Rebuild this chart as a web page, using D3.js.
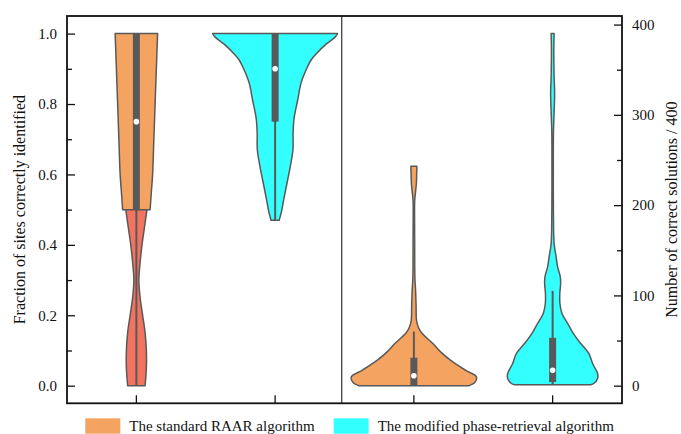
<!DOCTYPE html>
<html><head><meta charset="utf-8">
<script src="https://cdn.jsdelivr.net/npm/d3@7"></script>
<style>body{margin:0;background:#fff}svg{display:block}text{font-family:"Liberation Serif","Times New Roman",serif;fill:#111}</style>
</head><body><svg id="c" width="681" height="434"></svg>
<script>
// ---------- data ----------
const groups = ["fracRAAR", "fracMod", "cntRAAR", "cntMod"];
const legendLabels = ["The standard RAAR algorithm", "The modified phase-retrieval algorithm"];
const leftTicks = [0, 0.2, 0.4, 0.6, 0.8, 1.0];
const leftMinor = [0.1, 0.3, 0.5, 0.7, 0.9];
const rightTicks = [0, 100, 200, 300, 400];
const rightMinor = [50, 150, 250, 350];

// violin density profiles (value, relative density)
const raarFracUpperV = [0.5, 0.55, 0.6, 0.7, 0.8, 0.9, 0.95, 1.0];
const raarFracUpperD = [0.22, 0.24, 0.26, 0.28, 0.30, 0.32, 0.33, 0.34];
const raarFracLowerV = [0, 0.05, 0.1, 0.15, 0.2, 0.25, 0.3, 0.35, 0.4, 0.45, 0.5];
const raarFracLowerD = [0.14, 0.16, 0.16, 0.14, 0.10, 0.06, 0.04, 0.06, 0.09, 0.13, 0.17];
const modFracV = [0.47, 0.49, 0.53, 0.57, 0.62, 0.67, 0.72, 0.76, 0.81, 0.86, 0.9, 0.925, 0.945, 0.97, 0.99, 1.0];
const modFracD = [0.064, 0.096, 0.139, 0.184, 0.24, 0.285, 0.288, 0.304, 0.36, 0.416, 0.504, 0.576, 0.672, 0.816, 0.96, 1.0];
const raarCntV = [0, 4, 10, 17, 28, 38, 47, 58, 65, 72, 90, 106, 120, 158, 191, 205, 213, 224, 235, 243];
const raarCntD = [0.88, 0.98, 1.0, 0.83, 0.59, 0.42, 0.30, 0.13, 0.07, 0.043, 0.035, 0.027, 0.016, 0.013, 0.011, 0.013, 0.024, 0.04, 0.045, 0.048];
const modCntV = [1, 2.4, 8, 13.5, 24.6, 35.7, 46.7, 58, 69, 80, 91, 102, 113, 120.5, 131.6, 142.6, 157.5, 191, 243, 280, 298, 324, 342, 370, 390];
const modCntD = [0.61, 0.66, 0.72, 0.72, 0.64, 0.58, 0.45, 0.33, 0.24, 0.15, 0.117, 0.115, 0.128, 0.123, 0.08, 0.056, 0.024, 0.013, 0.011, 0.013, 0.021, 0.032, 0.024, 0.019, 0.024];

// box stats: [whiskerLow, q1, median, q3, whiskerHigh]
const boxFracRAAR = [0.0, 0.5, 0.75, 1.0, 1.0];
const boxFracMod = [0.47, 0.75, 0.9, 1.0, 1.0];
const boxCntRAAR = [0, 0.5, 11, 31, 60];
const boxCntMod = [1, 4, 17, 53, 105];

const dividerAt = 1.48; // in group-index units

// ---------- layout ----------
const W = 681, H = 434;
const M = {l: 67, r: 622, t: 16, b: 403.3};
const C = {orange: "#F4A460", red: "#F37361", cyan: "#33FFFF", line: "#595959"};
const svg = d3.select("#c");

const x = d3.scaleBand().domain(groups).range([M.l, M.r]).padding(0);
const xi = d3.scaleLinear().domain([-0.5, 3.5]).range([M.l, M.r]);
const yL = d3.scaleLinear().domain([-0.05, 1.05]).range([M.b, M.t]);
const yR = d3.scaleLinear().domain([-19.5, 409.5]).range([M.b, M.t]);
const w = d3.scaleLinear().domain([0, 1]).range([0, x.bandwidth() * 0.45]);
const cx = g => x(g) + x.bandwidth() / 2;

function violin(g, vals, dens, ys, fill) {
  const pts = vals.map((v, i) => ({v, d: dens[i]}));
  const c = cx(g);
  const area = d3.area()
    .y(d => ys(d.v)).x0(d => c - w(d.d)).x1(d => c + w(d.d))
    .curve(d3.curveCatmullRom.alpha(0.5));
  svg.append("path").attr("d", area(pts))
    .attr("fill", fill).attr("stroke", C.line).attr("stroke-width", 1.5)
    .attr("stroke-linejoin", "round");
}
function box(g, s, ys) {
  const c = cx(g);
  svg.append("line").attr("x1", c).attr("x2", c).attr("y1", ys(s[0])).attr("y2", ys(s[4]))
    .attr("stroke", C.line).attr("stroke-width", 2);
  svg.append("rect").attr("x", c - 3.5).attr("width", 7)
    .attr("y", ys(s[3])).attr("height", ys(s[1]) - ys(s[3])).attr("fill", C.line);
  svg.append("circle").attr("cx", c).attr("cy", ys(s[2])).attr("r", 2.8).attr("fill", "#fff");
}

violin("fracRAAR", raarFracUpperV, raarFracUpperD, yL, C.orange);
violin("fracRAAR", raarFracLowerV, raarFracLowerD, yL, C.red);
violin("fracMod", modFracV, modFracD, yL, C.cyan);
violin("cntRAAR", raarCntV, raarCntD, yR, C.orange);
violin("cntMod", modCntV, modCntD, yR, C.cyan);
box("fracRAAR", boxFracRAAR, yL);
box("fracMod", boxFracMod, yL);
box("cntRAAR", boxCntRAAR, yR);
box("cntMod", boxCntMod, yR);

// divider
svg.append("line").attr("x1", xi(dividerAt)).attr("x2", xi(dividerAt))
  .attr("y1", M.t).attr("y2", M.b).attr("stroke", "#333").attr("stroke-width", 1.2);

// axes (inward ticks)
const axL = d3.axisRight(yL).tickValues(leftTicks).tickSize(8).tickFormat(d3.format(".1f"));
const gL = svg.append("g").attr("transform", `translate(${M.l},0)`).call(axL);
gL.select(".domain").remove();
gL.selectAll("text").attr("x", -10).attr("text-anchor", "end").style("font-size", "15px")
  .style("font-family", '"Liberation Serif",serif').attr("fill", "#111");
const gLm = svg.append("g").attr("transform", `translate(${M.l},0)`)
  .call(d3.axisRight(yL).tickValues(leftMinor).tickSize(5).tickFormat(""));
gLm.select(".domain").remove();

const axR = d3.axisLeft(yR).tickValues(rightTicks).tickSize(8).tickFormat(d3.format("d"));
const gR = svg.append("g").attr("transform", `translate(${M.r},0)`).call(axR);
gR.select(".domain").remove();
gR.selectAll("text").attr("x", 10).attr("text-anchor", "start").style("font-size", "15px")
  .style("font-family", '"Liberation Serif",serif').attr("fill", "#111");
const gRm = svg.append("g").attr("transform", `translate(${M.r},0)`)
  .call(d3.axisLeft(yR).tickValues(rightMinor).tickSize(5).tickFormat(""));
gRm.select(".domain").remove();

const gB = svg.append("g").attr("transform", `translate(0,${M.b})`)
  .call(d3.axisTop(x).tickSize(8).tickFormat(""));
gB.select(".domain").remove();
svg.selectAll(".tick line").attr("stroke", "#111").attr("stroke-width", 1.3);

// frame
svg.append("rect").attr("x", M.l).attr("y", M.t).attr("width", M.r - M.l).attr("height", M.b - M.t)
  .attr("fill", "none").attr("stroke", "#111").attr("stroke-width", 1.8);

// axis labels
const midY = (M.t + M.b) / 2;
svg.append("text").attr("transform", `translate(25,${midY}) rotate(-90)`)
  .attr("text-anchor", "middle").style("font-size", "16px").text("Fraction of sites correctly identified");
svg.append("text").attr("transform", `translate(677,${midY}) rotate(-90)`)
  .attr("text-anchor", "middle").style("font-size", "16px").text("Number of correct solutions / 400");

// legend
const legColors = [C.orange, C.cyan];
let lx = 85.3;
legendLabels.forEach((lab, i) => {
  svg.append("rect").attr("x", lx).attr("y", 418.3).attr("width", 35).attr("height", 15.4).attr("fill", legColors[i]);
  const t = svg.append("text").attr("x", lx + 44).attr("y", 431).style("font-size", "15px").text(lab);
  lx = lx + 44 + t.node().getComputedTextLength() + 19;
});
</script></body></html>
